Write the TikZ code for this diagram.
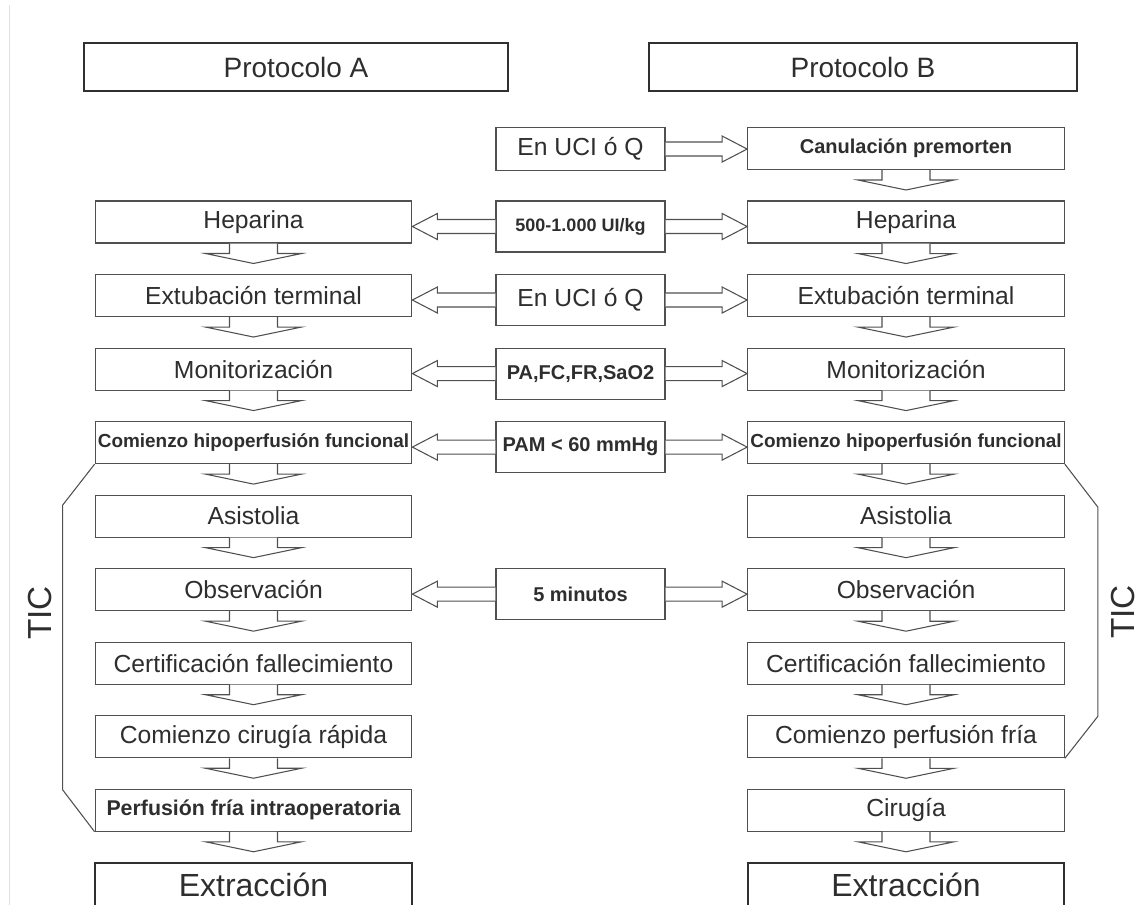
\documentclass[tikz,border=0pt]{standalone}
\usepackage{fontspec}
\setmainfont{Liberation Sans}
\usetikzlibrary{positioning,calc}

\definecolor{boxline}{HTML}{505050}
\definecolor{darkline}{HTML}{303030}
\definecolor{txt}{HTML}{2E2E2E}

\tikzset{
  sidebox/.style={draw=boxline, line width=0.8pt, fill=white, minimum width=237.5pt,
    minimum height=31.5pt, inner sep=0pt, text=txt, font=\fontsize{18.5}{20}\selectfont},
  boldbox/.style={sidebox, font=\bfseries\fontsize{15}{17}\selectfont},
  midbox/.style={boldbox, minimum width=126.75pt, minimum height=38.25pt, anchor=north},
  headbox/.style={draw=darkline, line width=1.6pt, minimum height=36pt, inner sep=0pt,
    text=txt, font=\fontsize{21}{23}\selectfont},
  endbox/.style={sidebox, draw=darkline, line width=1.6pt, minimum height=32.25pt,
    font=\fontsize{24}{26}\selectfont},
  blockarrow/.style={draw=boxline, line width=0.8pt, line join=miter, fill=white},
  ticline/.style={draw=boxline, line width=0.8pt},
  ticlabel/.style={text=txt, inner sep=0pt, font=\fontsize{25}{27}\selectfont}
}

% hollow arrow down from one box to the next
\newcommand{\downarr}[2]{%
  \draw[blockarrow] ($(#1.south)+(-24,0)$) -- ++(0,10) -- ++(-24,0)
    -- ($(#2.north)+(0,-10.5)$) -- ($(#1.south)+(48,10)$) -- ++(-24,0) -- ++(0,-10);}
% hollow arrows from a middle box out to the columns
\newcommand{\harrowleft}[2]{%
  \draw[blockarrow] ($(#1.west)+(0,-7)$) -- ($(#2.east |- #1.west)+(25,-7)$) -- ++(0,-6)
    -- (#2.east |- #1.west) -- ($(#2.east |- #1.west)+(25,13)$) -- ++(0,-6)
    -- ($(#1.west)+(0,7)$);}
\newcommand{\harrowright}[2]{%
  \draw[blockarrow] ($(#1.east)+(0,-7)$) -- ($(#2.west |- #1.east)+(-25,-7)$) -- ++(0,-6)
    -- (#2.west |- #1.east) -- ($(#2.west |- #1.east)+(-25,13)$) -- ++(0,-6)
    -- ($(#1.east)+(0,7)$);}

\begin{document}
\begin{tikzpicture}[x=0.75pt, y=-0.75pt, node distance=22.85pt]
  \useasboundingbox (0,0) rectangle (1143,905);
  \draw[black!12, line width=1.2pt] (9.5,5) -- (9.5,905);

  % headers
  \node (protA) [headbox, minimum width=318pt] at (296,67) {Protocolo A};
  \node (protB) [headbox, minimum width=321pt] at (863,67) {Protocolo B};

  % protocol A
  \node (a1) [sidebox] at (253.5,222) {Heparina};
  \node (a2) [sidebox, below=of a1] {Extubación terminal};
  \node (a3) [sidebox, below=of a2] {Monitorización};
  \node (a4) [boldbox, below=of a3, font=\bfseries\fontsize{14.2}{16}\selectfont] {Comienzo hipoperfusión funcional};
  \node (a5) [sidebox, below=of a4] {Asistolia};
  \node (a6) [sidebox, below=of a5] {Observación};
  \node (a7) [sidebox, below=of a6] {Certificación fallecimiento};
  \node (a8) [sidebox, below=of a7] {Comienzo cirugía rápida};
  \node (a9) [boldbox, below=of a8, font=\bfseries\fontsize{16}{18}\selectfont] {Perfusión fría intraoperatoria};
  \node (a10) [endbox, below=of a9] {Extracción};

  % protocol B
  \node (b1) [boldbox] at (906,148.5) {Canulación premorten};
  \node (b2) [sidebox, below=of b1] {Heparina};
  \node (b3) [sidebox, below=of b2] {Extubación terminal};
  \node (b4) [sidebox, below=of b3] {Monitorización};
  \node (b5) [boldbox, below=of b4, font=\bfseries\fontsize{14.2}{16}\selectfont] {Comienzo hipoperfusión funcional};
  \node (b6) [sidebox, below=of b5] {Asistolia};
  \node (b7) [sidebox, below=of b6] {Observación};
  \node (b8) [sidebox, below=of b7] {Certificación fallecimiento};
  \node (b9) [sidebox, below=of b8] {Comienzo perfusión fría};
  \node (b10) [sidebox, below=of b9] {Cirugía};
  \node (b11) [endbox, below=of b10] {Extracción};

  % middle
  \node (m1) [midbox, minimum height=32.25pt, font=\fontsize{18.5}{20}\selectfont] at (580.5,127) {En UCI ó Q};
  \node (m2) [midbox, font=\bfseries\fontsize{13.5}{15}\selectfont] at (a1.north -| m1.north) {500-1.000 UI/kg};
  \node (m3) [midbox, font=\fontsize{18.5}{20}\selectfont] at (a2.north -| m1.north) {En UCI ó Q};
  \node (m4) [midbox] at (a3.north -| m1.north) {PA,FC,FR,SaO2};
  \node (m5) [midbox] at (a4.north -| m1.north) {PAM < 60 mmHg};
  \node (m6) [midbox] at (a6.north -| m1.north) {5 minutos};

  \harrowright{m1}{b1};
  \foreach \m/\u/\v in {m2/a1/b2, m3/a2/b3, m4/a3/b4, m5/a4/b5, m6/a6/b7} {
    \harrowleft{\m}{\u};
    \harrowright{\m}{\v};
  }

  \foreach \u/\v in {a1/a2, a2/a3, a3/a4, a4/a5, a5/a6, a6/a7, a7/a8, a8/a9, a9/a10}
    \downarr{\u}{\v};
  \foreach \u/\v in {b1/b2, b2/b3, b3/b4, b4/b5, b5/b6, b6/b7, b7/b8, b8/b9, b9/b10, b10/b11}
    \downarr{\u}{\v};

  % TIC brackets
  \draw[ticline] (a4.south west) -- ++(-32,41) -- ($(a9.south west)+(-32,-42)$) -- (a9.south west);
  \draw[ticline] (b5.south east) -- ++(33,43) -- ($(b9.south east)+(33,-42)$) -- (b9.south east);
  \node (ticA) [ticlabel, rotate=90] at (40,613) {TIC};
  \node (ticB) [ticlabel, rotate=90] at (1123,612) {TIC};
\end{tikzpicture}
\end{document}
